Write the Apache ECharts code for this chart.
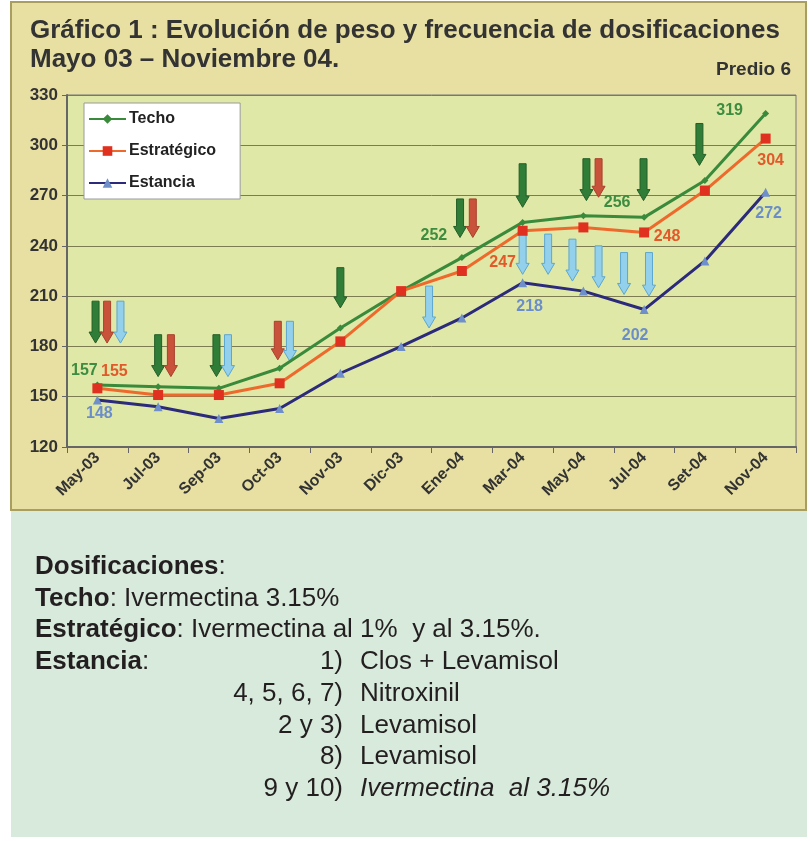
<!DOCTYPE html>
<html>
<head>
<meta charset="utf-8">
<script src="https://cdn.jsdelivr.net/npm/echarts@6/dist/echarts.min.js"></script>
<style>
  html, body { margin: 0; padding: 0; background: #fff; }
  #chart { width: 810px; height: 841px; }
</style>
</head>
<body>
<div id="chart"></div>
<script>
// datos
var meses = ['May-03', 'Jul-03', 'Sep-03', 'Oct-03', 'Nov-03', 'Dic-03', 'Ene-04', 'Mar-04', 'May-04', 'Jul-04', 'Set-04', 'Nov-04'];
var techo = [157, 156, 155, 167, 191, 213, 233, 254, 258, 257, 279, 319];
var estrategico = [155, 151, 151, 158, 183, 213, 225, 249, 251, 248, 273, 304];
var estancia = [148, 144, 137, 143, 164, 180, 197, 218, 213, 202, 231, 272];

// etiquetas tal como aparecen
var etiqTecho = ['157', '', '', '', '', '', '252', '', '', '256', '', '319'];
var etiqEstr = ['155', '', '', '', '', '', '', '247', '', '248', '', '304'];
var etiqEstancia = ['148', '', '', '', '', '', '', '218', '', '202', '', '272'];

// dosificaciones: [posicion en meses, peso arriba, peso punta]
var dosisTecho = [[-0.03, 207, 182], [1.0, 187, 162], [1.96, 187, 162], [4.0, 227, 203], [5.97, 268, 245], [7.0, 289, 263], [8.05, 292, 267], [8.99, 292, 267], [9.91, 313, 288]];
var dosisEstr = [[0.16, 207, 182], [1.21, 187, 162], [2.97, 195, 172], [6.18, 268, 245], [8.25, 292, 269]];
var dosisEstancia = [[0.38, 207, 182], [2.15, 187, 162], [3.17, 195, 171], [5.46, 216, 191], [7.0, 248, 223], [7.42, 247, 223], [7.82, 244, 219], [8.25, 240, 215], [8.67, 236, 211], [9.08, 236, 210]];

// desplazamiento de cada etiqueta respecto del punto (px)
var offTecho = { 0: [-13, -14], 6: [-28, -22], 9: [-27, -15], 11: [-36, -3] };
var offEstr = { 0: [17, -17], 7: [-20, 32], 9: [23, 4], 11: [5, 22] };
var offEstancia = { 0: [2, 14], 7: [7, 24], 9: [-9, 26], 11: [3, 21] };

function conEtiquetas(valores, textos, offs, color) {
  return valores.map(function (v, i) {
    if (!textos[i]) return v;
    return {
      value: v,
      label: {
        show: true, position: 'inside', offset: offs[i], formatter: textos[i],
        color: color, fontSize: 16, fontWeight: 'bold', fontFamily: 'Liberation Sans'
      }
    };
  });
}

function flecha(relleno, borde) {
  return function (params, api) {
    var a = api.coord([api.value(0), api.value(1)]);
    var b = api.coord([api.value(0), api.value(2)]);
    var x = a[0], hw = 3.5, hh = 6.5, cab = 11;
    return {
      type: 'polygon',
      shape: { points: [[x - hw, a[1]], [x + hw, a[1]], [x + hw, b[1] - cab], [x + hh, b[1] - cab], [x, b[1]], [x - hh, b[1] - cab], [x - hw, b[1] - cab]] },
      style: { fill: relleno, stroke: borde, lineWidth: 1 }
    };
  };
}

var chart = echarts.init(document.getElementById('chart'));

var fuente = 'Liberation Sans';
var richB = { b: { fontWeight: 'bold', fontSize: 26, fontFamily: fuente } };
var option = {
  animation: false,
  textStyle: { fontFamily: fuente },
  graphic: {
    elements: [
      // paneles de fondo
      { type: 'rect', z: -100, shape: { x: 11, y: 2, width: 795, height: 508 }, style: { fill: '#e8e0a3', stroke: '#a99e5e', lineWidth: 2 } },
      { type: 'rect', z: -100, shape: { x: 11, y: 511, width: 796, height: 326 }, style: { fill: '#d8eadb' } },
      // titulos
      { type: 'text', x: 30, y: 31, style: { text: 'Gráfico 1 : Evolución de peso y frecuencia de dosificaciones', font: 'bold 26px Liberation Sans', fill: '#333', verticalAlign: 'middle' } },
      { type: 'text', x: 30, y: 60, style: { text: 'Mayo 03 – Noviembre 04.', font: 'bold 26px Liberation Sans', fill: '#333', verticalAlign: 'middle' } },
      { type: 'text', x: 791, y: 70, style: { text: 'Predio 6', font: 'bold 19px Liberation Sans', fill: '#333', align: 'right', verticalAlign: 'middle' } },
      // texto inferior
      { type: 'text', x: 35, y: 567, style: { text: '{b|Dosificaciones}:', font: '26px Liberation Sans', fill: '#231f20', verticalAlign: 'middle', rich: richB } },
      { type: 'text', x: 35, y: 599, style: { text: '{b|Techo}: Ivermectina 3.15%', font: '26px Liberation Sans', fill: '#231f20', verticalAlign: 'middle', rich: richB } },
      { type: 'text', x: 35, y: 630, style: { text: '{b|Estratégico}: Ivermectina al 1%  y al 3.15%.', font: '26px Liberation Sans', fill: '#231f20', verticalAlign: 'middle', rich: richB } },
      { type: 'text', x: 35, y: 662, style: { text: '{b|Estancia}:', font: '26px Liberation Sans', fill: '#231f20', verticalAlign: 'middle', rich: richB } },
      { type: 'text', x: 343, y: 662, style: { text: '1)', font: '26px Liberation Sans', fill: '#231f20', align: 'right', verticalAlign: 'middle' } },
      { type: 'text', x: 343, y: 694, style: { text: '4, 5, 6, 7)', font: '26px Liberation Sans', fill: '#231f20', align: 'right', verticalAlign: 'middle' } },
      { type: 'text', x: 343, y: 726, style: { text: '2 y 3)', font: '26px Liberation Sans', fill: '#231f20', align: 'right', verticalAlign: 'middle' } },
      { type: 'text', x: 343, y: 757, style: { text: '8)', font: '26px Liberation Sans', fill: '#231f20', align: 'right', verticalAlign: 'middle' } },
      { type: 'text', x: 343, y: 789, style: { text: '9 y 10)', font: '26px Liberation Sans', fill: '#231f20', align: 'right', verticalAlign: 'middle' } },
      { type: 'text', x: 360, y: 662, style: { text: 'Clos + Levamisol', font: '26px Liberation Sans', fill: '#231f20', verticalAlign: 'middle' } },
      { type: 'text', x: 360, y: 694, style: { text: 'Nitroxinil', font: '26px Liberation Sans', fill: '#231f20', verticalAlign: 'middle' } },
      { type: 'text', x: 360, y: 726, style: { text: 'Levamisol', font: '26px Liberation Sans', fill: '#231f20', verticalAlign: 'middle' } },
      { type: 'text', x: 360, y: 757, style: { text: 'Levamisol', font: '26px Liberation Sans', fill: '#231f20', verticalAlign: 'middle' } },
      { type: 'text', x: 360, y: 789, style: { text: 'Ivermectina  al 3.15%', font: 'italic 26px Liberation Sans', fill: '#231f20', verticalAlign: 'middle' } }
    ]
  },
  legend: {
    data: ['Techo', 'Estratégico', 'Estancia'],
    orient: 'vertical',
    left: 84, top: 103,
    padding: [8, 24, 8, 4],
    itemWidth: 37, itemHeight: 12, itemGap: 16,
    backgroundColor: '#ffffff',
    borderColor: '#9a9a9a', borderWidth: 1,
    textStyle: { fontSize: 16, fontWeight: 'bold', color: '#222', fontFamily: fuente, padding: [0, 0, 0, -2] }
  },
  grid: {
    left: 67, right: 14, top: 95, bottom: 394,
    show: true, backgroundColor: '#dfe8a6', borderColor: '#777', borderWidth: 1
  },
  xAxis: [{
    type: 'category',
    data: meses,
    boundaryGap: true,
    axisLine: { lineStyle: { color: '#666', width: 2 } },
    axisTick: { show: true, length: 6, lineStyle: { color: '#666' } },
    axisLabel: { interval: 0, rotate: 45, margin: 8, fontSize: 16, fontWeight: 'bold', color: '#333', fontFamily: fuente }
  }, {
    type: 'value', min: -0.5, max: 11.5, show: false
  }],
  yAxis: {
    type: 'value',
    min: 120, max: 330, interval: 30,
    axisLine: { show: true, onZero: false, lineStyle: { color: '#666', width: 2 } },
    axisTick: { show: true, length: 5, lineStyle: { color: '#666' } },
    axisLabel: { margin: 9, fontSize: 17, fontWeight: 'bold', color: '#333', fontFamily: fuente },
    splitLine: { lineStyle: { color: '#7d7b52', width: 1 } }
  },
  series: [
    { name: 'dosis techo', type: 'custom', xAxisIndex: 1, z: 1, data: dosisTecho, renderItem: flecha('#2f7d36', '#245f29'), encode: { x: 0, y: [1, 2] }, silent: true },
    { name: 'dosis estr', type: 'custom', xAxisIndex: 1, z: 1, data: dosisEstr, renderItem: flecha('#c9533a', '#a8402c'), encode: { x: 0, y: [1, 2] }, silent: true },
    { name: 'dosis estancia', type: 'custom', xAxisIndex: 1, z: 1, data: dosisEstancia, renderItem: flecha('#92d0ec', '#5ea6cf'), encode: { x: 0, y: [1, 2] }, silent: true },
    {
      name: 'Techo', type: 'line', z: 3,
      data: conEtiquetas(techo, etiqTecho, offTecho, '#3d8c3f'),
      symbol: 'diamond', symbolSize: 7,
      lineStyle: { color: '#3a8a3c', width: 3 },
      itemStyle: { color: '#3a8a3c' }
    },
    {
      name: 'Estratégico', type: 'line', z: 4,
      data: conEtiquetas(estrategico, etiqEstr, offEstr, '#e2592a'),
      symbol: 'rect', symbolSize: 10,
      lineStyle: { color: '#ee6a2c', width: 3 },
      itemStyle: { color: '#e0301f' }
    },
    {
      name: 'Estancia', type: 'line', z: 3,
      data: conEtiquetas(estancia, etiqEstancia, offEstancia, '#6b8ec9'),
      symbol: 'triangle', symbolSize: 9,
      lineStyle: { color: '#2c2a7a', width: 3 },
      itemStyle: { color: '#6f8fca' }
    }
  ]
};

chart.setOption(option);
</script>
</body>
</html>
